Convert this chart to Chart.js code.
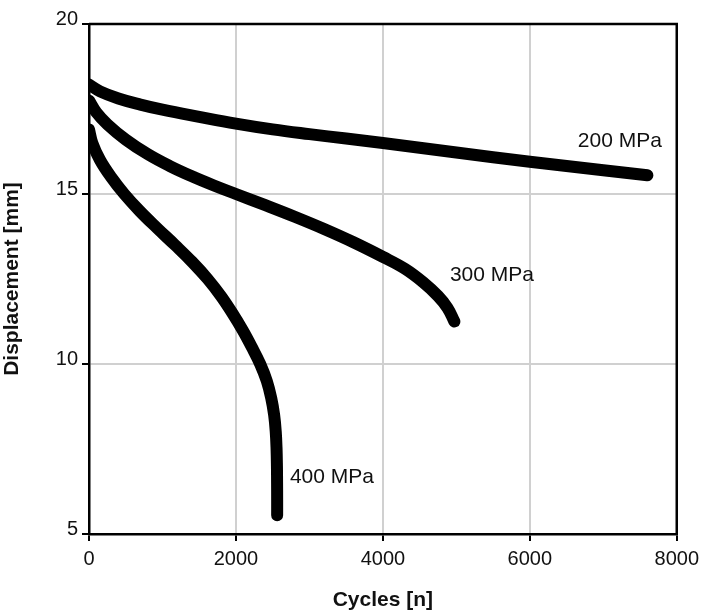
<!DOCTYPE html>
<html>
<head>
<meta charset="utf-8">
<script src="https://cdn.jsdelivr.net/npm/chart.js@4"></script>
<style>
  html,body{margin:0;padding:0;background:#fff;}
  #wrap{width:705px;height:613px;position:relative;}
</style>
</head>
<body>
<div id="wrap"><canvas id="c"></canvas></div>
<script>
const xTicks = [0, 2000, 4000, 6000, 8000];
const yTicks = [5, 10, 15, 20];

const cycles200 = [0, 150, 400, 700, 1000, 1500, 2000, 2500, 3000, 3500, 4000, 5000, 6000, 7000, 7600];
const disp200   = [18.22, 18.02, 17.81, 17.63, 17.48, 17.27, 17.07, 16.9, 16.76, 16.63, 16.5, 16.22, 15.95, 15.7, 15.55];

const cycles300 = [0, 100, 250, 500, 800, 1100, 1400, 1700, 2000, 2400, 2800, 3200, 3600, 4000, 4300, 4550, 4750, 4880, 4973];
const disp300   = [17.75, 17.4, 17.05, 16.6, 16.17, 15.82, 15.52, 15.25, 15.0, 14.67, 14.33, 13.97, 13.58, 13.15, 12.8, 12.4, 12.0, 11.65, 11.25];

const cycles400 = [0, 45, 150, 300, 480, 690, 925, 1170, 1405, 1615, 1795, 1950, 2090, 2215, 2330, 2420, 2480, 2520, 2542, 2553, 2558, 2560, 2561, 2561];
const disp400   = [16.9, 16.5, 16.0, 15.5, 15.0, 14.5, 14.0, 13.5, 13.0, 12.5, 12.0, 11.5, 11.0, 10.5, 10.0, 9.5, 9.0, 8.5, 8.0, 7.5, 7.0, 6.5, 6.0, 5.55];

const seriesNames = ['200 MPa', '300 MPa', '400 MPa'];
const labelCycles = [6653, 4912, 2735];
const labelDisp   = [16.56, 12.62, 6.68];

function pts(xs, ys){ return xs.map((x,i)=>({x:x, y:ys[i]})); }

const curveLabels = {
  id: 'curveLabels',
  afterDatasetsDraw(chart){
    const {ctx, scales:{x, y}} = chart;
    ctx.save();
    ctx.fillStyle = '#111';
    ctx.font = '21px "Liberation Sans", Arial, sans-serif';
    ctx.textAlign = 'left';
    ctx.textBaseline = 'middle';
    seriesNames.forEach((t,i)=>{
      ctx.fillText(t, x.getPixelForValue(labelCycles[i]), y.getPixelForValue(labelDisp[i]));
    });
    ctx.restore();
  }
};

const frame = {
  id: 'frame',
  afterDatasetsDraw(chart){
    const {ctx, chartArea:a} = chart;
    ctx.save();
    ctx.strokeStyle = '#000';
    ctx.lineWidth = 2.5;
    ctx.beginPath();
    ctx.moveTo(a.left, a.top);
    ctx.lineTo(a.right, a.top);
    ctx.lineTo(a.right, a.bottom);
    ctx.stroke();
    ctx.restore();
  }
};

const lineStyle = {
  borderColor: '#000',
  backgroundColor: '#000',
  borderWidth: 12,
  borderCapStyle: 'round',
  borderJoinStyle: 'round',
  pointRadius: 0,
  tension: 0.4,
  fill: false
};

new Chart(document.getElementById('c'), {
  type: 'line',
  data: {
    datasets: [
      Object.assign({label: seriesNames[0], data: pts(cycles200, disp200)}, lineStyle),
      Object.assign({label: seriesNames[1], data: pts(cycles300, disp300)}, lineStyle),
      Object.assign({label: seriesNames[2], data: pts(cycles400, disp400)}, lineStyle)
    ]
  },
  options: {
    responsive: true,
    maintainAspectRatio: false,
    animation: false,
    events: [],
    layout: { padding: { left: 0, top: 24, right: 28, bottom: 0 } },
    plugins: { legend: { display: false }, tooltip: { enabled: false } },
    scales: {
      x: {
        type: 'linear',
        min: 0, max: 8000,
        afterBuildTicks(s){ s.ticks = xTicks.map(v=>({value:v})); },
        afterFit(s){ s.height = 79; },
        border: { color: '#000', width: 2.5 },
        grid: {
          color: '#d0d0d0',
          lineWidth: 2,
          tickColor: '#000',
          tickWidth: 2,
          tickLength: 7
        },
        ticks: {
          color: '#111',
          padding: 6,
          font: { family: '"Liberation Sans", Arial, sans-serif', size: 20 },
          maxRotation: 0,
          callback: v => String(v)
        },
        title: {
          display: true,
          text: 'Cycles [n]',
          color: '#111',
          padding: { top: 10, bottom: 0 },
          font: { family: '"Liberation Sans", Arial, sans-serif', size: 21, weight: 'bold' }
        }
      },
      y: {
        type: 'linear',
        min: 5, max: 20,
        afterBuildTicks(s){ s.ticks = yTicks.map(v=>({value:v})); },
        afterFit(s){ s.width = 89; },
        border: { color: '#000', width: 2.5 },
        grid: {
          color: '#d0d0d0',
          lineWidth: 2,
          tickColor: '#000',
          tickWidth: 2,
          tickLength: 7
        },
        ticks: {
          color: '#111',
          padding: 4,
          labelOffset: -5,
          font: { family: '"Liberation Sans", Arial, sans-serif', size: 20 },
          callback: v => String(v)
        },
        title: {
          display: true,
          text: 'Displacement [mm]',
          color: '#111',
          padding: { top: 0, bottom: 4 },
          font: { family: '"Liberation Sans", Arial, sans-serif', size: 21, weight: 'bold' }
        }
      }
    }
  },
  plugins: [curveLabels, frame]
});
</script>
</body>
</html>
